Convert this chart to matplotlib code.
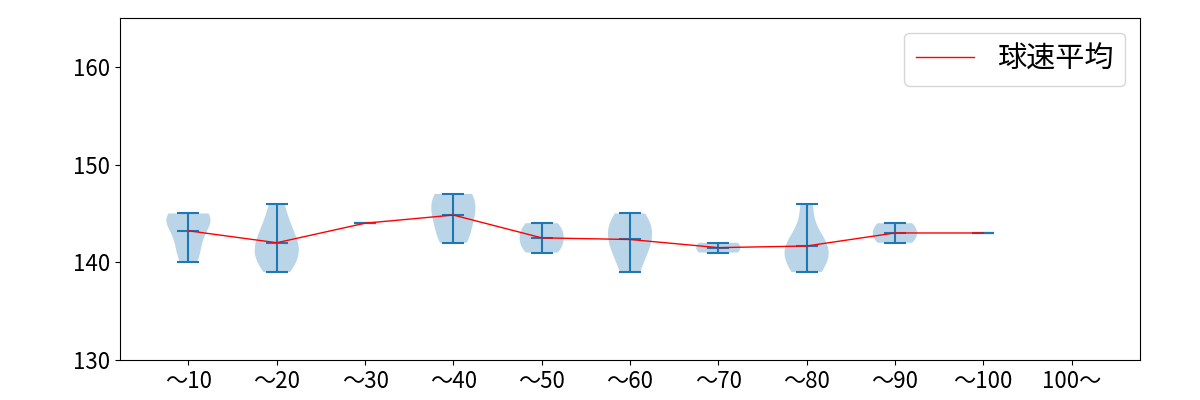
import matplotlib
matplotlib.use("Agg")
import matplotlib.pyplot as plt
import numpy as np

plt.rcParams['font.family'] = ['Noto Sans CJK JP', 'DejaVu Sans']

# Speed buckets (pitch count ranges)
labels = ["～10", "～20", "～30", "～40", "～50", "～60", "～70", "～80", "～90", "～100", "100～"]

# Ball speeds per bucket (km/h)
speeds_10 = [140, 141, 142, 143, 144, 144, 145, 145, 145]
speeds_20 = [139, 140, 141, 141, 142, 143, 144, 146]
speeds_30 = [144]
speeds_40 = [142, 143, 145, 145, 147, 147]
speeds_50 = [141, 142, 143, 144]
speeds_60 = [139, 141, 142, 143, 144, 145]
speeds_70 = [141, 142]
speeds_80 = [139, 140, 141, 142, 142, 146]
speeds_90 = [142, 143, 144]
speeds_100 = [143]

groups = [speeds_10, speeds_20, speeds_30, speeds_40, speeds_50,
          speeds_60, speeds_70, speeds_80, speeds_90, speeds_100]
positions = list(range(1, len(groups) + 1))
means = [np.mean(g) for g in groups]

fig = plt.figure(figsize=(12, 4), dpi=100)
ax = fig.add_axes([0.1, 0.1, 0.85, 0.855])

ax.violinplot(groups, positions=positions, showmeans=True)
ax.plot(positions, means, color="red", linewidth=1, label="球速平均")

ax.set_xticks(range(1, len(labels) + 1))
ax.set_xticklabels(labels)
ax.set_xlim(0.225, 11.775)
ax.set_ylim(130, 165)
ax.set_yticks([130, 140, 150, 160])
ax.tick_params(labelsize=16)
ax.legend(loc="upper right", fontsize=21)

fig.savefig("out.png")
